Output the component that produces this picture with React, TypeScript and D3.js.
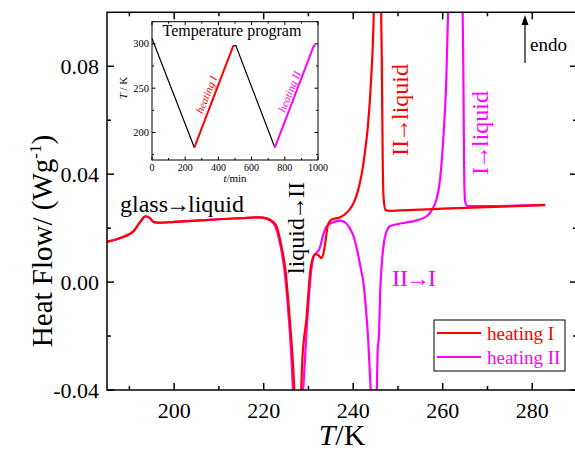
import React from "react";
import * as d3 from "d3";

// ---------------- DATA ----------------
const xTicksMajor = [200, 220, 240, 260, 280];
const xTicksMinor = [190, 210, 230, 250, 270, 290];
const yTicksMajor = [-0.04, 0.0, 0.04, 0.08];
const yTickLabels = ["-0.04", "0.00", "0.04", "0.08"];
const yTicksMinor = [-0.02, 0.02, 0.06];

// heating I (red)
const redT = [185, 187, 189, 190.9, 192.5, 193.6, 194.5, 195.5, 197, 200, 205, 210, 215, 219, 220.6, 221.7, 222.8, 224.0, 224.9, 225.5, 226.6, 227.0, 227.8, 228.3, 228.6, 229.6, 230.4, 231.0, 231.6, 232.2, 232.9, 233.4, 233.8, 234.4, 235.2, 237.1, 239.0, 240.1, 241.0, 241.5, 242.2, 242.6, 243.3, 244.0, 244.6, 245.0, 245.6, 246.1, 246.4, 246.6, 246.8, 247.2, 248.0, 250.5, 260, 270, 282.9];
const redV = [0.0150, 0.0158, 0.0170, 0.0188, 0.0225, 0.0244, 0.0238, 0.0222, 0.0220, 0.0223, 0.0228, 0.0233, 0.0237, 0.0240, 0.0236, 0.0228, 0.0210, 0.0130, 0.0040, -0.0070, -0.0320, -0.045, -0.07, -0.045, -0.030, -0.0128, 0.0040, 0.0090, 0.0104, 0.0100, 0.0089, 0.0110, 0.0150, 0.0215, 0.0232, 0.0240, 0.0265, 0.0293, 0.0335, 0.0368, 0.0430, 0.0479, 0.058, 0.075, 0.100, 0.14, 0.16, 0.12, 0.08, 0.045, 0.031, 0.0268, 0.0264, 0.0266, 0.0272, 0.0278, 0.0285];

// heating II (magenta)
const magT = [185, 187, 189, 190.9, 192.5, 193.6, 194.5, 195.5, 197, 200, 205, 210, 215, 219, 220.5, 221.5, 222.5, 223.7, 224.6, 225.3, 226.3, 226.8, 227.6, 228.5, 228.9, 229.7, 230.6, 231.2, 231.8, 232.5, 233.3, 234.1, 235.5, 237.1, 238.3, 239.2, 240.1, 241.0, 241.7, 242.3, 242.9, 243.4, 243.9, 244.4, 244.9, 245.3, 245.5, 245.7, 245.8, 246.0, 246.4, 246.9, 247.5, 248.2, 250, 251.9, 254, 256.4, 257.7, 258.6, 259.4, 260.2, 260.8, 261.2, 261.8, 263.5, 264.3, 264.6, 264.8, 265.0, 265.5, 270, 282.9];
const magV = [0.0150, 0.0158, 0.0170, 0.0188, 0.0225, 0.0244, 0.0238, 0.0222, 0.0220, 0.0223, 0.0228, 0.0233, 0.0237, 0.0240, 0.0236, 0.0228, 0.0210, 0.0140, 0.0050, -0.0066, -0.0313, -0.05, -0.07, -0.05, -0.038, -0.015, 0.004, 0.0098, 0.0108, 0.0125, 0.0175, 0.0207, 0.0222, 0.0228, 0.0220, 0.0200, 0.0169, 0.0110, 0.0050, -0.0004, -0.011, -0.0227, -0.040, -0.06, -0.06, -0.038, -0.0239, -0.0214, -0.018, -0.005, 0.0071, 0.0150, 0.0190, 0.0207, 0.0215, 0.0221, 0.0228, 0.0244, 0.0270, 0.0306, 0.0380, 0.055, 0.075, 0.100, 0.15, 0.18, 0.12, 0.08, 0.04, 0.030, 0.0282, 0.0282, 0.0286];

// inset temperature program
const progCoolA_t = [0, 255];
const progCoolA_T = [306, 183];
const progHeatI_t = [255, 490];
const progHeatI_T = [183, 298];
const progCoolB_t = [490, 505, 740];
const progCoolB_T = [298, 298, 183];
const progHeatII_t = [740, 975, 985];
const progHeatII_T = [183, 298, 298];
const insetXTicks = [0, 200, 400, 600, 800, 1000];
const insetXMinor = [100, 300, 500, 700, 900];
const insetYTicks = [200, 250, 300];
const insetYMinor = [175, 225, 275, 325];

const RED = "#ff0000";
const MAG = "#ff00ff";
const FONT = "'Liberation Serif', 'Times New Roman', serif";

function Arrowed({ a, b }: { a: string; b: string }) {
  return (
    <>
      {a}
      <tspan dx={-2}>→</tspan>
      <tspan dx={-2}>{b}</tspan>
    </>
  );
}

export default function App() {
  const L = 107, R = 577, T = 12.3, B = 390;
  const x = d3.scaleLinear().domain([185, 290]).range([L, R]);
  const y = d3.scaleLinear().domain([-0.04, 0.1]).range([B, T]);

  const line = d3
    .line<[number, number]>()
    .x((d) => x(d[0]))
    .y((d) => y(d[1]))
    .curve(d3.curveMonotoneX);

  const redPts = redT.map((t, i) => [t, redV[i]] as [number, number]);
  const magPts = magT.map((t, i) => [t, magV[i]] as [number, number]);

  // inset
  const iL = 152, iR = 318, iT = 21.7, iB = 160;
  const ix = d3.scaleLinear().domain([0, 1000]).range([iL, iR]);
  const iy = d3.scaleLinear().domain([169, 325]).range([iB, iT]);
  const iline = d3
    .line<[number, number]>()
    .x((d) => ix(d[0]))
    .y((d) => iy(d[1]));
  const seg = (ts: number[], Ts: number[]) =>
    iline(ts.map((t, i) => [t, Ts[i]] as [number, number])) || "";

  return (
    <svg
      width={575}
      height={454}
      style={{ position: "absolute", left: 0, top: 0, background: "#fff" }}
      fontFamily={FONT}
    >
      <defs>
        <clipPath id="plotClip">
          <rect x={L} y={T} width={R - L} height={B - T} />
        </clipPath>
      </defs>
      <rect x={0} y={0} width={575} height={454} fill="#fff" />

      {/* curves */}
      <g clipPath="url(#plotClip)" fill="none" strokeWidth={2.2} strokeLinejoin="round">
        <path d={line(magPts) || ""} stroke={MAG} />
        <path d={line(redPts) || ""} stroke={RED} />
      </g>

      {/* frame */}
      <rect x={L} y={T} width={R - L} height={B - T} fill="none" stroke="#000" strokeWidth={1.5} />

      {/* x ticks */}
      {xTicksMajor.map((v) => (
        <g key={"xM" + v}>
          <line x1={x(v)} x2={x(v)} y1={B} y2={B - 7} stroke="#000" strokeWidth={1.5} />
          <line x1={x(v)} x2={x(v)} y1={T} y2={T + 7} stroke="#000" strokeWidth={1.5} />
          <text x={x(v)} y={418} textAnchor="middle" fontSize={22}>
            {v}
          </text>
        </g>
      ))}
      {xTicksMinor.map((v) => (
        <g key={"xm" + v}>
          <line x1={x(v)} x2={x(v)} y1={B} y2={B - 4} stroke="#000" strokeWidth={1.5} />
          <line x1={x(v)} x2={x(v)} y1={T} y2={T + 4} stroke="#000" strokeWidth={1.5} />
        </g>
      ))}
      {/* y ticks */}
      {yTicksMajor.map((v, i) => (
        <g key={"yM" + v}>
          <line x1={L} x2={L + 7} y1={y(v)} y2={y(v)} stroke="#000" strokeWidth={1.5} />
          <line x1={R} x2={R - 7} y1={y(v)} y2={y(v)} stroke="#000" strokeWidth={1.5} />
          <text x={99} y={y(v) + 7.5} textAnchor="end" fontSize={22}>
            {yTickLabels[i]}
          </text>
        </g>
      ))}
      {yTicksMinor.map((v) => (
        <g key={"ym" + v}>
          <line x1={L} x2={L + 4} y1={y(v)} y2={y(v)} stroke="#000" strokeWidth={1.5} />
          <line x1={R} x2={R - 4} y1={y(v)} y2={y(v)} stroke="#000" strokeWidth={1.5} />
        </g>
      ))}

      {/* axis titles */}
      <text x={342} y={445} textAnchor="middle" fontSize={30}>
        <tspan fontStyle="italic">T</tspan>/K
      </text>
      <text transform="translate(52,241) rotate(-90)" textAnchor="middle" fontSize={29}>
        Heat Flow/ (Wg
        <tspan fontSize={17} dy={-11}>-1</tspan>
        <tspan dy={11}>)</tspan>
      </text>

      {/* annotations */}
      <text x={120} y={212} fontSize={24}>
        <Arrowed a="glass" b="liquid" />
      </text>
      <text transform="translate(304,228) rotate(-90)" textAnchor="middle" fontSize={24}>
        <Arrowed a="liquid" b="II" />
      </text>
      <text transform="translate(408,110) rotate(-90)" textAnchor="middle" fontSize={24} fill={RED}>
        <Arrowed a="II" b="liquid" />
      </text>
      <text transform="translate(488,133) rotate(-90)" textAnchor="middle" fontSize={24} fill={MAG}>
        <Arrowed a="I" b="liquid" />
      </text>
      <text x={392} y={286} fontSize={24} fill={MAG}>
        <Arrowed a="II" b="I" />
      </text>

      {/* endo arrow */}
      <line x1={525} x2={525} y1={63} y2={22} stroke="#000" strokeWidth={1.2} />
      <path d="M525,15 L521.5,25 L528.5,25 Z" fill="#000" />
      <text x={530} y={51} fontSize={19}>endo</text>

      {/* legend */}
      <rect x={434} y={320} width={131} height={51} fill="#fff" stroke="#000" strokeWidth={1} />
      <line x1={437} x2={481} y1={333} y2={333} stroke={RED} strokeWidth={2.2} />
      <text x={487} y={340} fontSize={19} fill={RED}>heating I</text>
      <line x1={437} x2={481} y1={357} y2={357} stroke={MAG} strokeWidth={2.2} />
      <text x={487} y={364} fontSize={19} fill={MAG}>heating II</text>

      {/* inset */}
      <rect x={iL} y={iT} width={iR - iL} height={iB - iT} fill="#fff" stroke="#000" strokeWidth={1} />
      <g fill="none" strokeWidth={1.2}>
        <path d={seg(progCoolA_t, progCoolA_T)} stroke="#000" />
        <path d={seg(progCoolB_t, progCoolB_T)} stroke="#000" />
        <path d={seg(progHeatI_t, progHeatI_T)} stroke={RED} strokeWidth={2} />
        <path d={seg(progHeatII_t, progHeatII_T)} stroke={MAG} strokeWidth={2} />
      </g>
      {insetXTicks.map((v) => (
        <g key={"ix" + v}>
          <line x1={ix(v)} x2={ix(v)} y1={iB} y2={iB - 3.5} stroke="#000" />
          <line x1={ix(v)} x2={ix(v)} y1={iT} y2={iT + 3.5} stroke="#000" />
          <text x={ix(v)} y={iB + 11} textAnchor="middle" fontSize={10}>
            {v}
          </text>
        </g>
      ))}
      {insetXMinor.map((v) => (
        <g key={"ixm" + v}>
          <line x1={ix(v)} x2={ix(v)} y1={iB} y2={iB - 2} stroke="#000" />
          <line x1={ix(v)} x2={ix(v)} y1={iT} y2={iT + 2} stroke="#000" />
        </g>
      ))}
      {insetYTicks.map((v) => (
        <g key={"iy" + v}>
          <line x1={iL} x2={iL + 3.5} y1={iy(v)} y2={iy(v)} stroke="#000" />
          <line x1={iR} x2={iR - 3.5} y1={iy(v)} y2={iy(v)} stroke="#000" />
          <text x={iL - 3} y={iy(v) + 3.5} textAnchor="end" fontSize={10.5}>
            {v}
          </text>
        </g>
      ))}
      {insetYMinor.map((v) => (
        <g key={"iym" + v}>
          <line x1={iL} x2={iL + 2} y1={iy(v)} y2={iy(v)} stroke="#000" />
          <line x1={iR} x2={iR - 2} y1={iy(v)} y2={iy(v)} stroke="#000" />
        </g>
      ))}
      <text x={232} y={36} textAnchor="middle" fontSize={16}>Temperature program</text>
      <text x={235} y={182} textAnchor="middle" fontSize={11}>
        <tspan fontStyle="italic">t</tspan>/min
      </text>
      <text transform="translate(127,88) rotate(-90)" textAnchor="middle" fontSize={11}>
        <tspan fontStyle="italic">T</tspan> / K
      </text>
      <text
        transform="translate(210,96) rotate(-68)"
        textAnchor="middle"
        fontSize={11}
        fontStyle="italic"
        fill={RED}
      >
        heating I
      </text>
      <text
        transform="translate(293,93) rotate(-68)"
        textAnchor="middle"
        fontSize={11}
        fontStyle="italic"
        fill={MAG}
      >
        heating II
      </text>
    </svg>
  );
}
